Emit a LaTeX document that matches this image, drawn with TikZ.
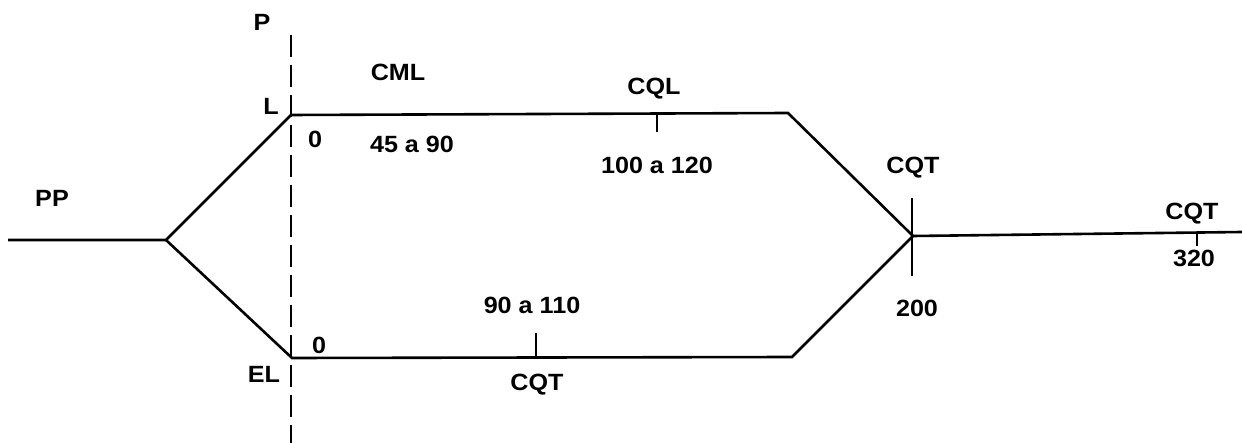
\documentclass[tikz,border=0pt]{standalone}
\usepackage{fontspec}
\setmainfont{Liberation Sans}
\begin{document}
\begin{tikzpicture}[x=1pt,y=-1pt,line width=2.6pt,
  lbl/.style={font=\bfseries\fontsize{23.5}{28}\selectfont,inner sep=0pt,xscale=1.07},
  tick/.style={line width=2.2pt},
  divider/.style={line width=2.4pt,dash pattern=on 22pt off 8pt}]
\useasboundingbox (0,0) rectangle (1242,443);
% junctions
\coordinate (a) at (8,240);
\coordinate (b) at (166,240);
\coordinate (l) at (291,115);
\coordinate (el) at (292,358);
\coordinate (tc) at (788,113);
\coordinate (bc) at (792,357);
\coordinate (j) at (913,236);
\coordinate (e) at (1242,232);
% tick ends
\coordinate (cql1) at (657,113);
\coordinate (cql2) at (657,132);
\coordinate (cqb1) at (536,358);
\coordinate (cqb2) at (536,333);
\coordinate (cqj1) at (912,198);
\coordinate (cqj2) at (912,276);
\coordinate (cqr1) at (1197,232.5);
\coordinate (cqr2) at (1197,246);
\coordinate (p1) at (291,35);
\coordinate (p2) at (291,443);
% main lines
\draw[line join=miter] (a) -- (b) -- (l) -- (tc) -- (j);
\draw[line join=miter] (b) -- (el) -- (bc) -- (j);
\draw (j) -- (e);
% ticks
\draw[tick] (cql1) -- (cql2);
\draw[tick] (cqb1) -- (cqb2);
\draw (cqj1) -- (cqj2);
\draw[tick] (cqr1) -- (cqr2);
% dashed divider
\draw[divider] (p1) -- (p2);
% labels
\node[lbl] (tP) at (262,22) {P};
\node[lbl] (tCML) at (398,72) {CML};
\node[lbl] (tL) at (271,106) {L};
\node[lbl] (t0a) at (315,139) {0};
\node[lbl] (t4590) at (412,144) {45 a 90};
\node[lbl] (tCQL) at (654,89) {CQL};
\node[lbl] (t100) at (657,165) {100 a 120};
\node[lbl] (tCQTm) at (913,168) {CQT};
\node[lbl] (tPP) at (52,198) {PP};
\node[lbl] (tCQTr) at (1192,214) {CQT};
\node[lbl] (t320) at (1194,258) {320};
\node[lbl] (t90) at (532,305) {90 a 110};
\node[lbl] (t200) at (917,308) {200};
\node[lbl] (t0b) at (319,345) {0};
\node[lbl] (tEL) at (264,374) {EL};
\node[lbl] (tCQTb) at (537,385) {CQT};
\end{tikzpicture}
\end{document}
